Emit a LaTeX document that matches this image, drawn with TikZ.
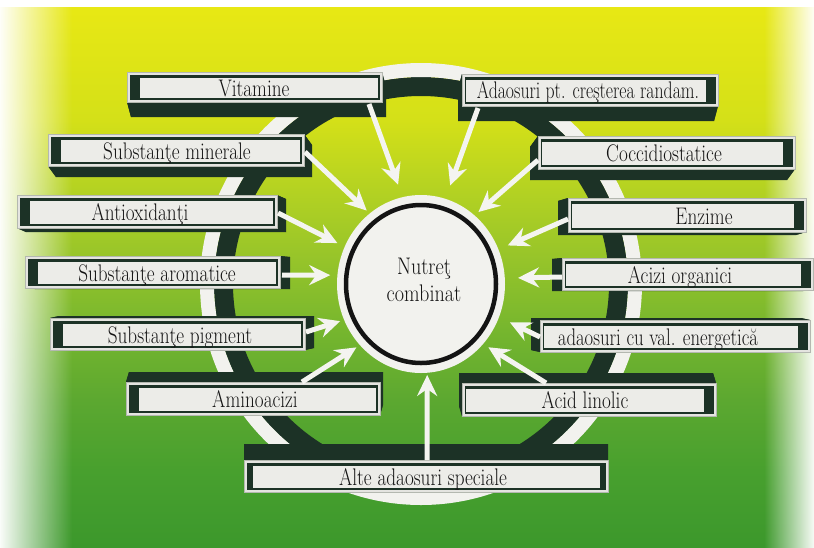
\documentclass[tikz,border=0pt]{standalone}
\usepackage{fontspec}
\setmainfont{Latin Modern Roman}
\usepackage{graphicx}
\usetikzlibrary{arrows.meta,shapes.geometric,fadings}

% palette
\definecolor{slabc}{HTML}{1C3226}
\definecolor{ringw}{HTML}{F2F2EE}
\definecolor{framec}{HTML}{E4E4E0}
\definecolor{edgec}{HTML}{B4B8B0}
\definecolor{panelc}{HTML}{ECECE8}
\definecolor{inkc}{HTML}{141414}
\definecolor{arrc}{HTML}{F4F4F0}
\definecolor{g0}{RGB}{60,152,44}
\definecolor{g1}{RGB}{72,160,46}
\definecolor{g2}{RGB}{92,168,48}
\definecolor{g3}{RGB}{118,182,46}
\definecolor{g4}{RGB}{150,196,42}
\definecolor{g5}{RGB}{180,210,34}
\definecolor{g6}{RGB}{212,224,24}
\definecolor{g7}{RGB}{232,232,20}

% yellow (top) to green (bottom) field
\pgfdeclareverticalshading{fieldbg}{100bp}{color(0bp)=(g0); color(25bp)=(g0);
  color(32.1bp)=(g1); color(38.6bp)=(g2); color(45.1bp)=(g3); color(51.6bp)=(g4);
  color(58.1bp)=(g5); color(64.5bp)=(g6); color(75bp)=(g7); color(100bp)=(g7)}

% narrowed label text
\newcommand\lab[2][0.8]{\scalebox{#1}[1]{#2}}

\tikzset{
  lbl/.style={font=\fontsize{24}{27}\selectfont, text=inkc, anchor=base, inner sep=0pt},
  feed/.style={draw=arrc, line width=5pt,
    -{Stealth[length=21pt,width=20pt,inset=7pt]}, shorten >=#1},
  feed/.default=6pt,
}

% dark extruded body of a panel: face x1 y1 x2 y2, depth vector dx dy
\newcommand\boxslab[6]{%
  \fill[slabc] ({#1+(#5)},{#2+(#6)}) rectangle ({#3+(#5)},{#4+(#6)});
  \fill[slabc] (#1,#2) -- (#3,#2) -- ({#3+(#5)},{#2+(#6)}) -- ({#1+(#5)},{#2+(#6)}) -- cycle;
  \fill[slabc] (#3,#2) -- (#3,#4) -- ({#3+(#5)},{#4+(#6)}) -- ({#3+(#5)},{#2+(#6)}) -- cycle;
  \fill[slabc] (#1,#4) -- (#3,#4) -- ({#3+(#5)},{#4+(#6)}) -- ({#1+(#5)},{#4+(#6)}) -- cycle;
  \fill[slabc] (#1,#2) -- (#1,#4) -- ({#1+(#5)},{#4+(#6)}) -- ({#1+(#5)},{#2+(#6)}) -- cycle;
}
% light front face with recessed panel: x1 y1 x2 y2, left strip, right strip
\newcommand\boxface[6]{%
  \fill[framec, draw=edgec, line width=0.6pt] (#1,#2) rectangle (#3,#4);
  \fill[slabc] ({#1+2.5},{#2+2.5}) rectangle ({#3-2.5},{#4-2.5});
  \fill[panelc] ({#1+2.5+#5},{#2+6}) rectangle ({#3-2.5-#6},{#4-4.5});
}

\begin{document}
\begin{tikzpicture}[x=1pt,y=-1pt]
\useasboundingbox (0,0) rectangle (814,547);

% background
\fill[white] (0,0) rectangle (814,547);
\shade[shading=fieldbg] (0,7) rectangle (814,547);
\fill[white, path fading=east] (-2,6) rectangle (72,548);
\fill[white, path fading=west] (764,6) rectangle (816,548);

% large ring behind the panels
\fill[slabc, even odd rule] (421,284) circle[radius=207pt] (421,284) circle[radius=188pt];
\fill[ringw, even odd rule] (421,284) circle[radius=221pt] (421,284) circle[radius=207pt];

% panel bodies
\boxslab{127}{72}{382}{102}{4}{15}
\boxslab{462}{74}{718}{106}{-4}{15}
\boxslab{48}{134}{304}{166}{8}{11}
\boxslab{538}{136}{795}{169}{-8}{11}
\boxslab{17}{195}{277}{228}{9}{4}
\boxslab{568}{198}{806}{232}{-10}{3}
\boxslab{25}{256}{280}{288}{10}{1}
\boxslab{562}{258}{813}{290}{-10}{1}
\boxslab{50}{318}{305}{350}{9}{-2}
\boxslab{540}{320}{810}{352}{-9}{-2}
\boxslab{126}{382}{380}{415}{3}{-10}
\boxslab{462}{383}{716}{416}{-3}{-10}
\boxslab{244}{460}{608}{492}{0}{-16}

% panel faces
\boxface{127}{72}{382}{102}{10}{1.5}
\boxface{462}{74}{718}{106}{1.5}{10}
\boxface{48}{134}{304}{166}{10}{1.5}
\boxface{538}{136}{795}{169}{1.5}{10}
\boxface{17}{195}{277}{228}{10}{1.5}
\boxface{568}{198}{806}{232}{1.5}{10}
\boxface{25}{256}{280}{288}{10}{1.5}
\boxface{562}{258}{813}{290}{1.5}{10}
\boxface{50}{318}{305}{350}{10}{1.5}
\boxface{540}{320}{810}{352}{1.5}{10}
\boxface{126}{382}{380}{415}{10}{1.5}
\boxface{462}{383}{716}{416}{1.5}{10}
\boxface{244}{460}{608}{492}{6}{6}

% panel labels
\node[lbl] (vit) at (254,96) {\lab{Vitamine}};
\node[lbl] (ada) at (588,98) {\lab[0.74]{Adaosuri pt. creşterea randam.}};
\node[lbl] (min) at (177,159) {\lab{Substanţe minerale}};
\node[lbl] (coc) at (664,161) {\lab{Coccidiostatice}};
\node[lbl] (ant) at (140,220) {\lab{Antioxidanţi}};
\node[lbl] (enz) at (704,224) {\lab{Enzime}};
\node[lbl] (aro) at (157,281) {\lab{Substanţe aromatice}};
\node[lbl] (aci) at (680,283) {\lab{Acizi organici}};
\node[lbl] (pig) at (180,343) {\lab{Substanţe pigment}};
\node[lbl] (val) at (658,345) {\lab[0.78]{adaosuri cu val. energetică}};
\node[lbl] (ami) at (255,407) {\lab{Aminoacizi}};
\node[lbl] (lin) at (585,408) {\lab{Acid linolic}};
\node[lbl] (alt) at (423,485) {\lab{Alte adaosuri speciale}};

% hub
\node[ellipse, fill=ringw, minimum width=168pt, minimum height=178pt, inner sep=0pt] (hub) at (421,284) {};
\draw[inkc, line width=4.5pt] (421,284) ellipse [x radius=75pt, y radius=79pt];
\node[font=\fontsize{24}{27}\selectfont, text=inkc, align=center, inner sep=0pt] (hubtxt) at (424,280) {\lab[0.84]{Nutreţ}\\\lab[0.84]{combinat}};

% arrow start points on the panels
\coordinate (svit) at (369,104);
\coordinate (sada) at (478,108);
\coordinate (smin) at (305,152);
\coordinate (scoc) at (538,160);
\coordinate (sant) at (278,213);
\coordinate (senz) at (568,219);
\coordinate (saro) at (282,275);
\coordinate (saci) at (562,277);
\coordinate (spig) at (306,332);
\coordinate (sval) at (540,337);
\coordinate (sami) at (302,382);
\coordinate (slin) at (546,383);
\coordinate (salt) at (427,460);

% arrows into the hub
\draw[feed=13pt] (svit) -- (hub.102);
\draw[feed=14pt] (sada) -- (hub.74);
\draw[feed=4pt] (smin) -- (hub.126);
\draw[feed=5pt] (scoc) -- (hub.52);
\draw[feed=8pt] (sant) -- (hub.154);
\draw[feed=10pt] (senz) -- (hub.24);
\draw[feed=7pt] (saro) -- (hub.174);
\draw[feed=13pt] (saci) -- (hub.4);
\draw[feed=4pt] (spig) -- (hub.205);
\draw[feed=12pt] (sval) -- (hub.337);
\draw[feed=4pt] (sami) -- (hub.225);
\draw[feed=6pt] (slin) -- (hub.316);
\draw[feed=2pt] (salt) -- (hub.274);
\end{tikzpicture}
\end{document}
